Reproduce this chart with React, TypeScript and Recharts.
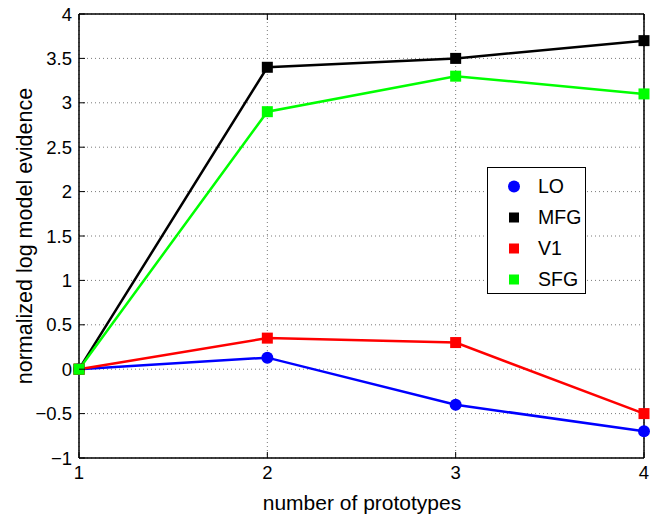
import React from "react"
import { LineChart, Line, XAxis, YAxis, CartesianGrid, Legend, Label } from "recharts"

const prototypes = [1, 2, 3, 4]
const loValues = [0, 0.13, -0.4, -0.7]
const mfgValues = [0, 3.4, 3.5, 3.7]
const v1Values = [0, 0.35, 0.3, -0.5]
const sfgValues = [0, 2.9, 3.3, 3.1]
const xTicks = [1, 2, 3, 4]
const yTicks = [-1, -0.5, 0, 0.5, 1, 1.5, 2, 2.5, 3, 3.5, 4]

const series = [
  { key: "LO", values: loValues, color: "#0000FF", marker: "circle" },
  { key: "MFG", values: mfgValues, color: "#000000", marker: "square" },
  { key: "V1", values: v1Values, color: "#FF0000", marker: "square" },
  { key: "SFG", values: sfgValues, color: "#00FF00", marker: "square" },
]

const data = prototypes.map((p, i) => {
  const row: Record<string, number> = { n: p }
  series.forEach((s) => (row[s.key] = s.values[i]))
  return row
})

const FONT = '"Liberation Sans", Arial, Helvetica, sans-serif'
const TICK = 6

const fmt = (v: number) => (v < 0 ? "\u2212" + Math.abs(v) : String(v))

const LeftTick = ({ x, y, payload }: any) => (
  <g>
    <line x1={x} y1={y} x2={x + TICK} y2={y} stroke="#000" strokeWidth={1} />
    <text x={x - 7} y={y} dy="0.36em" textAnchor="end" fontSize={18.5} fontFamily={FONT} fill="#000">
      {fmt(payload.value)}
    </text>
  </g>
)

const RightTick = ({ x, y }: any) => (
  <line x1={x} y1={y} x2={x - TICK} y2={y} stroke="#000" strokeWidth={1} />
)

const BottomTick = ({ x, y, payload }: any) => (
  <g>
    <line x1={x} y1={y} x2={x} y2={y - TICK} stroke="#000" strokeWidth={1} />
    <text x={x} y={y + 20.5} textAnchor="middle" fontSize={18.5} fontFamily={FONT} fill="#000">
      {fmt(payload.value)}
    </text>
  </g>
)

const TopTick = ({ x, y }: any) => (
  <line x1={x} y1={y} x2={x} y2={y + TICK} stroke="#000" strokeWidth={1} />
)

const makeDot = (color: string, marker: string) => (props: any) => {
  const { cx, cy, index } = props
  if (cx == null || cy == null) return <g key={index} />
  if (marker === "circle") return <circle key={index} cx={cx} cy={cy} r={6} fill={color} stroke="none" />
  return <rect key={index} x={cx - 5.5} y={cy - 5.5} width={11} height={11} fill={color} stroke="none" />
}

const LegendBox = () => (
  <div
    style={{
      position: "relative",
      width: 97,
      height: 125,
      border: "1.5px solid #000",
      background: "#fff",
      fontFamily: FONT,
      fontSize: 19.5,
    }}
  >
    {series.map((s, i) => (
      <div
        key={s.key}
        style={{ position: "absolute", left: 0, top: 3 + i * 31, height: 31, display: "flex", alignItems: "center" }}
      >
        <svg width={50} height={31} style={{ display: "block" }}>
          {s.marker === "circle" ? (
            <circle cx={26} cy={15.5} r={6} fill={s.color} />
          ) : (
            <rect x={21} y={10.5} width={10} height={10} fill={s.color} />
          )}
        </svg>
        <span style={{ color: "#000", lineHeight: "31px" }}>{s.key}</span>
      </div>
    ))}
  </div>
)

export default function App() {
  return (
    <div style={{ position: "absolute", left: 0, top: 0, width: 658, height: 517, background: "#fff" }}>
      <LineChart width={658} height={517} data={data} margin={{ top: 13, right: 13, left: 19, bottom: 29 }}>
        <CartesianGrid stroke="#7a7a7a" strokeDasharray="1 3" strokeWidth={1} />
        <XAxis
          dataKey="n"
          type="number"
          domain={[1, 4]}
          ticks={xTicks}
          height={30}
          tickSize={0}
          tickMargin={0}
          tickLine={false}
          axisLine={{ stroke: "#000", strokeWidth: 1.5 }}
          tick={<BottomTick />}
          interval={0}
        >
          <Label
            content={() => (
              <text x={362} y={510} textAnchor="middle" fontSize={21} fontFamily={FONT} fill="#000">
                number of prototypes
              </text>
            )}
          />
        </XAxis>
        <XAxis
          xAxisId="top"
          dataKey="n"
          type="number"
          orientation="top"
          domain={[1, 4]}
          ticks={xTicks}
          height={1}
          tickSize={0}
          tickMargin={0}
          tickLine={false}
          axisLine={{ stroke: "#000", strokeWidth: 1.5 }}
          tick={<TopTick />}
          interval={0}
        />
        <YAxis
          type="number"
          domain={[-1, 4]}
          ticks={yTicks}
          width={60}
          tickSize={0}
          tickMargin={0}
          tickLine={false}
          axisLine={{ stroke: "#000", strokeWidth: 1.5 }}
          tick={<LeftTick />}
          interval={0}
        >
          <Label
            content={() => (
              <text
                x={31.5}
                y={236}
                transform="rotate(-90 31.5 236)"
                textAnchor="middle"
                fontSize={21.5}
                fontFamily={FONT}
                fill="#000"
              >
                normalized log model evidence
              </text>
            )}
          />
        </YAxis>
        <YAxis
          yAxisId="right"
          type="number"
          orientation="right"
          domain={[-1, 4]}
          ticks={yTicks}
          width={1}
          tickSize={0}
          tickMargin={0}
          tickLine={false}
          axisLine={{ stroke: "#000", strokeWidth: 1.5 }}
          tick={<RightTick />}
          interval={0}
        />
        <Legend
          layout="vertical"
          align="center"
          verticalAlign="middle"
          content={() => <LegendBox />}
          wrapperStyle={{ left: 487, top: 167, width: 100, height: 128 }}
        />
        {series.map((s) => (
          <Line
            key={s.key}
            dataKey={s.key}
            type="linear"
            stroke={s.color}
            strokeWidth={2.5}
            dot={makeDot(s.color, s.marker)}
            activeDot={false}
            isAnimationActive={false}
          />
        ))}
      </LineChart>
    </div>
  )
}
